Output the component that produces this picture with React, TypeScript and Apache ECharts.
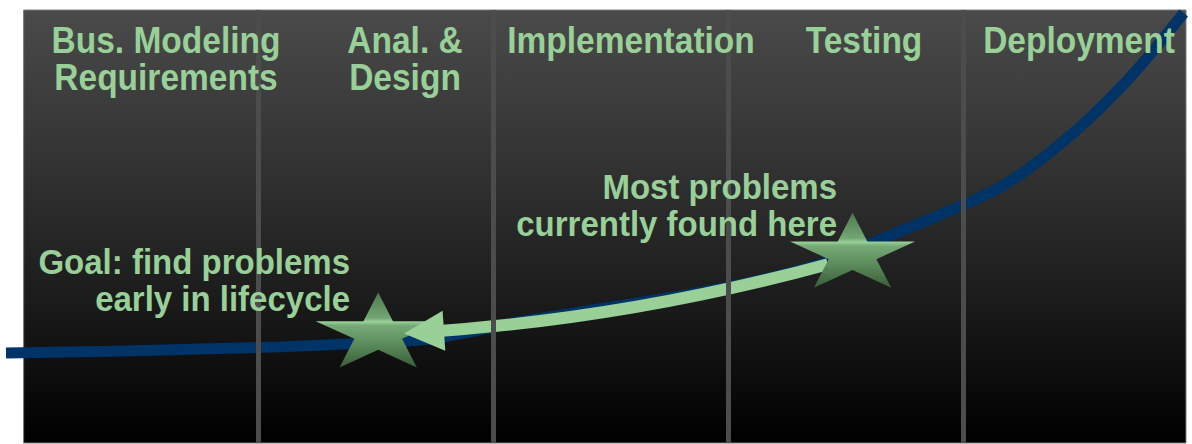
import React, { useEffect, useRef } from "react";
import * as echarts from "echarts";

// Lifecycle phases (x axis runs 0..99 across the panel, each phase 20 units wide)
const phaseLabels = ["Bus. Modeling\nRequirements", "Anal. &\nDesign", "Implementation", "Testing", "Deployment"];
const phaseBoundaries = [20, 40, 60, 80];
const panelRange = [0, 99];

// Cost-of-fixing curve (x: lifecycle progress, y: relative cost)
const costX = [-1.5, 7.4, 15.0, 21.8, 27.8, 34.6, 42.3, 49.1, 57.6, 63.6, 68.4, 72.9, 79.8, 83.2, 86.6, 90.0, 93.4, 95.9, 98.8];
const costY = [20.8, 21.2, 21.7, 22.2, 22.9, 24.0, 28.0, 31.0, 34.8, 38.2, 41.8, 46.9, 54.7, 59.1, 65.4, 73.0, 82.0, 89.6, 99.3];

// Stars and arrow
const goalStar = [30.2, 26.1];
const currentStar = [70.6, 44.5];
const arrowFrom = [68.5, 41.3];
const arrowTo = [34.1, 25.6];

const annotations = ["Most problems\ncurrently found here", "Goal: find problems\nearly in lifecycle"];

const STAR =
  "path://M0,-100 L22.45,-30.9 L95.1,-30.9 L36.33,11.8 L58.8,80.9 L0,38.2 L-58.8,80.9 L-36.33,11.8 L-95.1,-30.9 L-22.45,-30.9 Z";

const GREEN = "#98d098";
const FONT = "'Liberation Sans', Arial, sans-serif";

export default function App() {
  const ref = useRef<HTMLDivElement>(null);
  useEffect(() => {
    if (!ref.current) return;
    const chart = echarts.init(ref.current, null, { renderer: "svg" });

    const starFill = new echarts.graphic.LinearGradient(0, 0, 0, 1, [
      { offset: 0, color: "#4e7852" },
      { offset: 0.34, color: "#72a672" },
      { offset: 0.39, color: "#9ad29a" },
      { offset: 0.44, color: "#76aa76" },
      { offset: 0.7, color: "#5a8a5a" },
      { offset: 1, color: "#3a5c3a" },
    ]);

    const phasePos = [166, 405, 631, 864, 1079];
    const textStyle = (text: string, align: string, size: number) => ({
      text,
      fill: GREEN,
      font: `bold ${size}px ${FONT}`,
      align,
      verticalAlign: "top",
      lineHeight: 34,
    });

    chart.setOption({
      animation: false,
      backgroundColor: "#ffffff",
      grid: { left: 6, right: 6, top: 10, bottom: 1, containLabel: false },
      xAxis: { type: "value", min: -1.5, max: 99, show: false },
      yAxis: { type: "value", min: 0, max: 100, show: false },
      series: [
        {
          name: "phases",
          type: "line",
          data: [],
          z: 1,
          silent: true,
          markArea: {
            silent: true,
            data: [
              [
                {
                  xAxis: panelRange[0],
                  yAxis: 0,
                  itemStyle: {
                    color: new echarts.graphic.LinearGradient(0, 0, 0, 1, [
                      { offset: 0, color: "#4a4a4a" },
                      { offset: 0.35, color: "#333333" },
                      { offset: 0.67, color: "#1b1b1b" },
                      { offset: 1, color: "#000000" },
                    ]),
                    borderColor: "#7a7a7a",
                    borderWidth: 1,
                  },
                },
                { xAxis: panelRange[1], yAxis: 100 },
              ],
              [
                {
                  xAxis: panelRange[1],
                  yAxis: 0,
                  itemStyle: {
                    color: new echarts.graphic.LinearGradient(0, 0, 0, 1, [
                      { offset: 0, color: "#9a9a9a" },
                      { offset: 1, color: "#6a6a6a" },
                    ]),
                  },
                },
                { xAxis: 99.5, yAxis: 100 },
              ],
            ],
          },
          markLine: {
            silent: true,
            symbol: "none",
            label: { show: false },
            lineStyle: { color: "#4c4c4c", width: 5, type: "solid" },
            data: phaseBoundaries.map((b) => ({ xAxis: b })),
          },
        },
        {
          name: "cost",
          type: "line",
          z: 2,
          smooth: 0.3,
          symbol: "none",
          data: costX.map((x, i) => [x, costY[i]]),
          lineStyle: { color: "#003366", width: 11 },
        },
        {
          name: "goal",
          type: "scatter",
          z: 3,
          symbol: STAR,
          symbolSize: [125, 75],
          symbolKeepAspect: false,
          data: [goalStar],
          itemStyle: { color: starFill, opacity: 1 },
        },
        {
          name: "arrow",
          type: "lines",
          coordinateSystem: "cartesian2d",
          z: 4,
          symbol: ["none", "triangle"],
          symbolSize: 40,
          data: [{ coords: [arrowFrom, arrowTo] }],
          lineStyle: { color: GREEN, width: 12, curveness: 0.05, opacity: 1 },
          itemStyle: { color: GREEN },
        },
        {
          name: "current",
          type: "scatter",
          z: 5,
          symbol: STAR,
          symbolSize: [125, 75],
          symbolKeepAspect: false,
          data: [currentStar],
          itemStyle: { color: starFill, opacity: 1 },
        },
      ],
      graphic: [
        ...phaseLabels.map((t, i) => ({
          type: "text",
          x: phasePos[i],
          y: 22,
          scaleY: 1.08,
          z: 10,
          style: textStyle(t, "center", 33.5),
        })),
        { type: "text", x: 837, y: 168, scaleY: 1.08, z: 10, style: textStyle(annotations[0], "right", 33) },
        { type: "text", x: 350, y: 243, scaleY: 1.08, z: 10, style: textStyle(annotations[1], "right", 33) },
      ],
    });
    return () => chart.dispose();
  }, []);
  return <div ref={ref} style={{ position: "fixed", left: 0, top: 0, width: 1192, height: 444 }} />;
}
